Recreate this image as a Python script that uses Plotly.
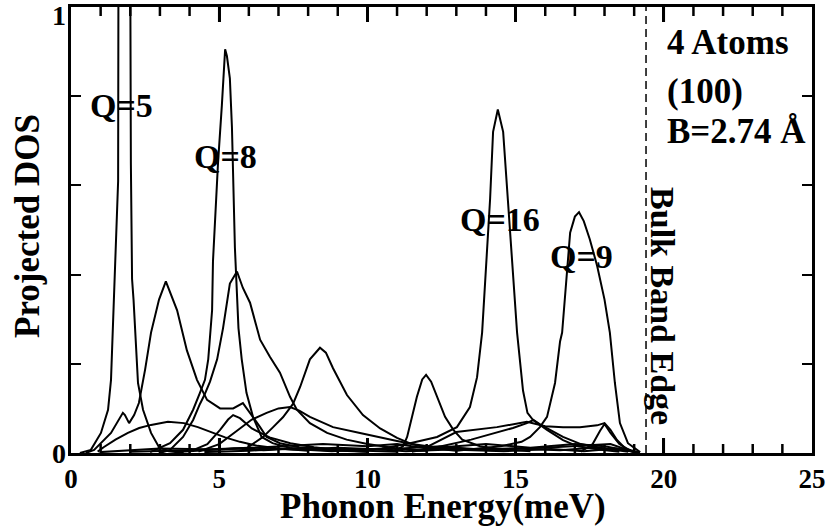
import plotly.graph_objects as go

# ---- data ----
q5_x = [0.3, 0.67, 1.01, 1.25, 1.35, 1.45, 1.52, 1.55, 1.59, 1.61, 1.8, 1.98, 2.02, 2.06, 2.11, 2.26, 2.43, 2.7, 2.97, 3.3, 3.8]
q5_y = [0.0, 0.007, 0.045, 0.097, 0.164, 0.344, 0.48, 0.557, 0.61, 1.5, 2.2, 1.5, 0.65, 0.39, 0.344, 0.157, 0.097, 0.045, 0.013, 0.004, 0.0]

c32_x = [0.5, 0.78, 1.35, 1.59, 1.69, 1.75, 1.82, 1.96, 2.13, 2.29, 2.5, 2.7, 2.97, 3.2, 3.58, 3.91, 4.25, 4.59, 5.03, 5.47, 5.8, 6.14, 6.38, 6.6, 7.05, 7.7, 9.1, 11.0]
c32_y = [0.0, 0.007, 0.045, 0.074, 0.085, 0.09, 0.085, 0.067, 0.085, 0.112, 0.187, 0.27, 0.344, 0.385, 0.32, 0.23, 0.164, 0.119, 0.10, 0.10, 0.112, 0.081, 0.058, 0.036, 0.022, 0.013, 0.007, 0.003]

q8_x = [2.67, 3.34, 3.78, 4.12, 4.35, 4.52, 4.63, 4.76, 4.79, 4.86, 4.96, 5.09, 5.2, 5.26, 5.36, 5.43, 5.47, 5.53, 5.65, 5.76, 5.92, 6.14, 6.43, 6.8, 7.4, 8.4, 10.0]
q8_y = [0.002, 0.022, 0.052, 0.097, 0.135, 0.164, 0.21, 0.32, 0.43, 0.52, 0.65, 0.78, 0.905, 0.89, 0.84, 0.73, 0.59, 0.46, 0.28, 0.21, 0.135, 0.081, 0.036, 0.022, 0.011, 0.007, 0.003]

c55_x = [3.0, 3.34, 3.78, 4.12, 4.35, 4.5, 4.69, 4.93, 5.13, 5.36, 5.6, 5.8, 6.04, 6.38, 6.71, 7.05, 7.39, 7.62, 8.06, 8.64, 9.3, 10.0, 11.0, 12.0]
c55_y = [0.0, 0.007, 0.036, 0.074, 0.11, 0.13, 0.16, 0.21, 0.28, 0.38, 0.407, 0.37, 0.337, 0.254, 0.216, 0.18, 0.126, 0.097, 0.067, 0.045, 0.03, 0.02, 0.01, 0.005]

c83_x = [5.8, 6.48, 6.82, 7.15, 7.49, 7.73, 8.06, 8.4, 8.6, 8.84, 9.31, 9.85, 10.43, 11.0, 11.5, 12.0, 13.0]
c83_y = [0.005, 0.036, 0.058, 0.08, 0.11, 0.148, 0.21, 0.236, 0.225, 0.19, 0.13, 0.085, 0.055, 0.034, 0.02, 0.012, 0.005]

c119_x = [10.9, 11.2, 11.34, 11.5, 11.67, 11.85, 11.98, 12.15, 12.35, 12.62, 12.9, 13.2, 13.8, 14.5, 15.5]
c119_y = [0.005, 0.015, 0.036, 0.081, 0.126, 0.165, 0.175, 0.16, 0.126, 0.081, 0.052, 0.03, 0.015, 0.008, 0.004]

q16_x = [10.5, 11.44, 12.35, 13.02, 13.46, 13.7, 13.87, 14.0, 14.14, 14.24, 14.4, 14.58, 14.74, 14.91, 15.05, 15.25, 15.4, 15.59, 16.06, 16.6, 17.1, 17.8, 18.5]
q16_y = [0.01, 0.022, 0.036, 0.058, 0.103, 0.17, 0.27, 0.42, 0.57, 0.72, 0.77, 0.72, 0.57, 0.42, 0.27, 0.14, 0.09, 0.074, 0.052, 0.029, 0.015, 0.008, 0.003]

q9_x = [13.0, 14.5, 15.2, 15.49, 15.82, 16.06, 16.33, 16.5, 16.57, 16.73, 16.84, 17.0, 17.14, 17.3, 17.5, 17.75, 18.0, 18.18, 18.35, 18.52, 18.79, 19.2]
q9_y = [0.005, 0.015, 0.025, 0.036, 0.058, 0.081, 0.157, 0.25, 0.27, 0.395, 0.494, 0.53, 0.54, 0.52, 0.48, 0.42, 0.344, 0.27, 0.157, 0.067, 0.022, 0.002]

c33_x = [0.9, 1.1, 1.5, 1.92, 2.3, 2.7, 3.27, 3.81, 4.28, 4.72, 5.2, 5.7, 6.3, 7.0, 8.0]
c33_y = [0.003, 0.013, 0.03, 0.045, 0.056, 0.063, 0.07, 0.067, 0.058, 0.047, 0.035, 0.025, 0.016, 0.01, 0.005]

c56_x = [4.0, 4.6, 5.03, 5.3, 5.47, 5.7, 6.1, 6.7, 7.4, 8.2, 9.0, 10.0]
c56_y = [0.003, 0.02, 0.052, 0.075, 0.085, 0.078, 0.055, 0.035, 0.022, 0.013, 0.007, 0.003]

c74_x = [4.3, 5.0, 5.6, 6.1, 6.6, 7.0, 7.39, 7.7, 8.06, 8.84, 9.75, 10.4, 11.0, 11.5, 12.3, 13.0]
c74_y = [0.003, 0.02, 0.05, 0.075, 0.09, 0.1, 0.103, 0.095, 0.081, 0.058, 0.045, 0.035, 0.027, 0.02, 0.012, 0.006]

c156_x = [11.5, 12.5, 13.5, 14.37, 14.91, 15.38, 15.6, 15.85, 16.16, 16.6, 17.2, 18.0, 18.8]
c156_y = [0.003, 0.015, 0.03, 0.045, 0.056, 0.067, 0.074, 0.063, 0.052, 0.036, 0.02, 0.01, 0.003]

c180_x = [11.9, 12.5, 13.0, 14.37, 15.38, 16.0, 16.6, 17.17, 17.75, 18.0, 18.2, 18.42, 18.7, 19.1]
c180_y = [0.01, 0.03, 0.047, 0.058, 0.07, 0.06, 0.058, 0.058, 0.062, 0.067, 0.052, 0.029, 0.01, 0.002]

c18b_x = [17.2, 17.6, 17.85, 18.0, 18.2, 18.5, 18.9]
c18b_y = [0.003, 0.02, 0.05, 0.065, 0.045, 0.02, 0.004]

low1_x = [1.0, 3.0, 5.0, 7.0, 8.5, 10.0, 11.0, 12.0, 14.0, 15.5, 17.0, 18.0, 19.0]
low1_y = [0.002, 0.01, 0.008, 0.015, 0.02, 0.015, 0.02, 0.01, 0.02, 0.012, 0.02, 0.015, 0.003]

low2_x = [2.0, 4.0, 6.0, 7.5, 9.0, 10.5, 12.5, 13.5, 16.0, 18.2, 19.0]
low2_y = [0.003, 0.006, 0.012, 0.008, 0.012, 0.008, 0.015, 0.008, 0.012, 0.02, 0.002]

low3_x = [3.5, 5.5, 6.5, 8.0, 9.5, 10.8, 11.8, 13.0, 14.2, 15.0, 16.5, 17.6, 18.6, 19.2]
low3_y = [0.002, 0.01, 0.006, 0.012, 0.006, 0.011, 0.005, 0.012, 0.006, 0.01, 0.006, 0.012, 0.008, 0.001]

low4_x = [4.5, 6.0, 7.2, 8.8, 10.2, 11.3, 12.8, 14.6, 16.2, 17.3, 18.4, 19.1]
low4_y = [0.002, 0.005, 0.01, 0.004, 0.009, 0.004, 0.008, 0.004, 0.009, 0.004, 0.01, 0.001]

curves = [(q5_x, q5_y), (c32_x, c32_y), (q8_x, q8_y), (c55_x, c55_y), (c83_x, c83_y),
          (c119_x, c119_y), (q16_x, q16_y), (q9_x, q9_y), (c33_x, c33_y), (c56_x, c56_y),
          (c74_x, c74_y), (c156_x, c156_y), (c180_x, c180_y), (c18b_x, c18b_y),
          (low1_x, low1_y), (low2_x, low2_y), (low3_x, low3_y), (low4_x, low4_y)]

band_edge = 19.4
x_major_ticks = [5, 10, 15, 20]
x_minor_ticks = [1, 2, 3, 4, 6, 7, 8, 9, 11, 12, 13, 14, 16, 17, 18, 19, 21, 22, 23, 24]
y_ticks = [0, 1]
y_tick_labels = ["0", "1"]

q_labels = ["Q=5", "Q=8", "Q=16", "Q=9"]
q_label_x = [1.69, 5.2, 14.47, 17.22]
q_label_y = [0.78, 0.665, 0.524, 0.44]

FONT = "Liberation Serif"
PLOT_H = 446  # plot-area height in px (526 - 7 - 73)

fig = go.Figure()
for cx, cy in curves:
    fig.add_trace(go.Scatter(x=cx, y=cy, mode="lines",
                             line=dict(color="black", width=2),
                             showlegend=False, hoverinfo="skip"))

# x tick marks (inside, bottom and top) drawn as one line trace
tx, ty = [], []
for tv, ln in [(v, 15) for v in x_major_ticks] + [(v, 9) for v in x_minor_ticks]:
    h = ln / PLOT_H
    tx += [tv, tv, None, tv, tv, None]
    ty += [0, h, None, 1, 1 - h, None]
fig.add_trace(go.Scatter(x=tx, y=ty, mode="lines", line=dict(color="black", width=2.5),
                         showlegend=False, hoverinfo="skip", connectgaps=False))

fig.add_shape(type="line", xref="x", yref="paper", x0=band_edge, x1=band_edge, y0=0, y1=1,
              line=dict(color="black", width=1.5, dash="8px,5px"))

for t, x, y in zip(q_labels, q_label_x, q_label_y):
    fig.add_annotation(x=x, y=y, xref="x", yref="y", text=t, showarrow=False,
                       font=dict(family=FONT, size=34, color="black", weight="bold"))

for t, yp in [("4 Atoms", 42), ("(100)", 91), ("B=2.74 Å", 131)]:
    fig.add_annotation(x=20.04, y=(453 - yp) / 446, xref="x", yref="paper", text=t,
                       showarrow=False, xanchor="left", yanchor="middle",
                       font=dict(family=FONT, size=35, color="black", weight="bold"))

fig.add_annotation(x=19.93, y=0.33, xref="x", yref="y", text="Bulk Band Edge", textangle=90,
                   showarrow=False, font=dict(family=FONT, size=34, color="black", weight="bold"))

fig.add_annotation(x=12.55, y=-0.12, xref="x", yref="paper", text="Phonon Energy(meV)",
                   showarrow=False, yanchor="middle",
                   font=dict(family=FONT, size=35, color="black", weight="bold"))
fig.add_annotation(x=-44 / 741, y=(453 - 226) / 446, xref="paper", yref="paper", text="Projected DOS",
                   textangle=-90, showarrow=False, xanchor="center",
                   font=dict(family=FONT, size=35, color="black", weight="bold"))

# y tick labels as annotations so the top one stays inside the picture
for v, lab in zip(y_ticks, y_tick_labels):
    fig.add_annotation(x=0, y=v, xref="paper", yref="y", text=lab, showarrow=False,
                       xanchor="right", xshift=-3,
                       yanchor="top" if v == 1 else "middle", yshift=9 if v == 1 else 0,
                       font=dict(family=FONT, size=28, color="black", weight="bold"))

fig.update_xaxes(range=[0, 25], tickmode="linear", tick0=0, dtick=5, ticks="inside", ticklen=15, tickwidth=2.5,
                 tickcolor="black", showline=True, linewidth=3, linecolor="black", mirror="ticks",
                 showgrid=False, zeroline=False, automargin=False, ticklabeloverflow="allow",
                 tickfont=dict(family=FONT, size=27, color="black", weight="bold"))
fig.update_yaxes(range=[0, 1], tickvals=y_ticks, showticklabels=False, ticks="inside", ticklen=10, tickwidth=2,
                 tickcolor="black", showline=True, linewidth=3, linecolor="black", mirror="ticks",
                 showgrid=False, zeroline=False, automargin=False,
                 minor=dict(dtick=0.2, ticks="inside", ticklen=10, tickwidth=2, tickcolor="black", showgrid=False))

fig.update_layout(width=829, height=526, margin=dict(l=71, r=17, t=7, b=73),
                  paper_bgcolor="white", plot_bgcolor="white", showlegend=False)

fig.write_html("out.html")
